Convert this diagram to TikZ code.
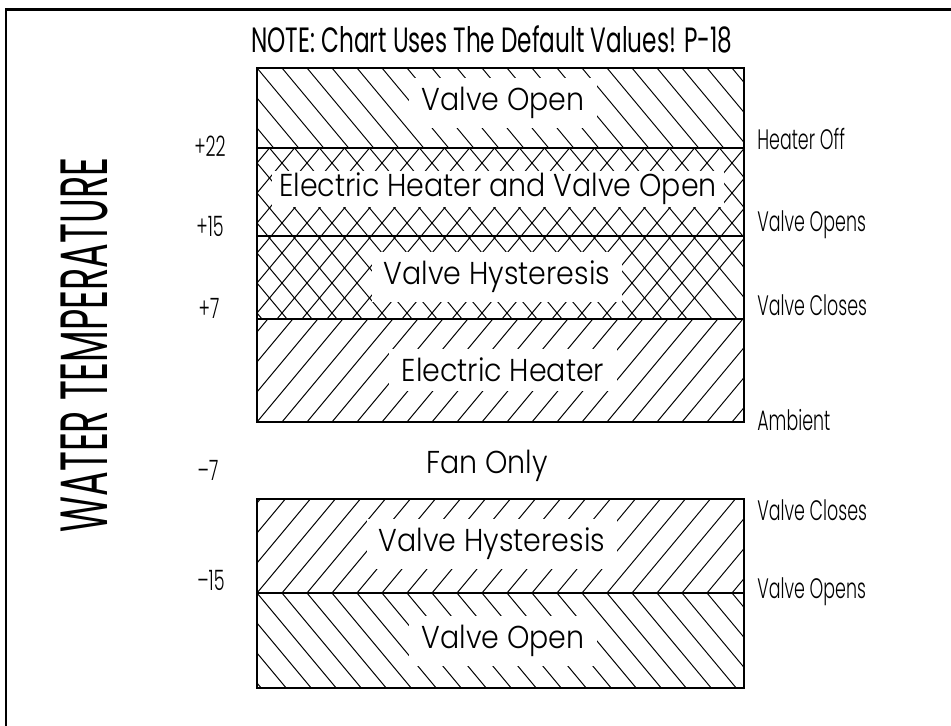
\documentclass[tikz,border=0pt]{standalone}
\usepackage{fontspec}
\IfFontExistsTF{Poppins Light}
  {\newfontfamily\bandfont[FakeStretch=0.9]{Poppins Light}
   \newfontfamily\tagfont[FakeStretch=0.62]{Poppins Light}}
  {\newfontfamily\bandfont[FakeStretch=0.9]{Poppins}
   \newfontfamily\tagfont[FakeStretch=0.62]{Poppins}}
\newfontfamily\headfont[FakeStretch=0.66]{Poppins}
\newfontfamily\axisfont[FakeStretch=0.55]{Poppins}
\usetikzlibrary{positioning}

\tikzset{
  hatch/.style = {line width=0.55pt},
  edge/.style  = {line width=0.9pt},
  band/.style  = {fill=white, inner xsep=7pt, inner ysep=5pt,
                  font=\bandfont\fontsize{18}{20}\selectfont},
  tag/.style   = {inner sep=0pt, font=\tagfont\fontsize{16}{18}\selectfont},
  rtag/.style  = {tag, anchor=west},
}

\begin{document}
\begin{tikzpicture}[x=0.02cm, y=-0.02cm]
  \useasboundingbox (0,0) rectangle (951,726);
  % frame
  \draw[line width=1.7pt] (6,726) -- (6,9.5) -- (951,9.5);

  % ── upper chart: single hatches ─────────────────────────
  \begin{scope}
    \clip (257,68) rectangle (744,148);
    \foreach \k in {-4,...,20}
      \draw[hatch] ({257+25*\k},68) -- ++({80/1.2},80);
  \end{scope}
  \begin{scope}
    \clip (257,319) rectangle (744,422);
    \foreach \k in {-5,...,20}
      \draw[hatch] ({257+25*\k},422) -- ++({103/1.2},-103);
  \end{scope}

  % ── upper chart: cross hatches ──────────────────────────
  \begin{scope}
    \clip (257,148) rectangle (744,319);
    \foreach \k in {-8,...,22} {
      \draw[hatch] ({269.5+25*\k},148) -- ++({171/1.2},171);
      \draw[hatch] ({269.5+25*\k},148) -- ++({-171/1.2},171);
    }
  \end{scope}

  % ── lower chart ─────────────────────────────────────────
  \begin{scope}
    \clip (257,499) rectangle (744,593);
    \foreach \k in {-5,...,20}
      \draw[hatch] ({257+25*\k},593) -- ++({94/1.2},-94);
  \end{scope}
  \begin{scope}
    \clip (257,593) rectangle (744,688);
    \foreach \k in {-4,...,20}
      \draw[hatch] ({257+25*\k},593) -- ++({95/1.2},95);
  \end{scope}

  % band labels
  \node[band] (vopen) at (503,103) {Valve Open};
  \node[band, inner xsep=4pt, inner ysep=1pt] (ehvo) at (498,189) {Electric Heater and Valve Open};
  \node[band] (vhyst) at (497,277) {Valve Hysteresis};
  \node[band] (eheat) at (503,370) {Electric Heater};
  \node[band, fill=none] (fan) at (487,466) {Fan Only};
  \node[band] (lhyst) at (492,544) {Valve Hysteresis};
  \node[band] (lopen) at (503,641) {Valve Open};

  % band outlines
  \draw[edge] (257,68) rectangle (744,422);
  \draw[edge] (257,148) -- (744,148);
  \draw[edge] (257,236) -- (744,236);
  \draw[edge] (257,319) -- (744,319);
  \draw[edge] (257,499) rectangle (744,688);
  \draw[edge] (257,593) -- (744,593);

  % heading and axis title
  \node[inner sep=0pt, font=\headfont\fontsize{20}{22}\selectfont] (head)
    at (492,39) {NOTE: Chart Uses The Default Values! P-18};
  \node[inner sep=0pt, rotate=90, font=\axisfont\fontsize{38}{42}\selectfont] (axis)
    at (84,345) {WATER TEMPERATURE};

  % temperature marks
  \node[tag] (t22)  at (210,146) {+22};
  \node[tag] (t15)  at (210,226) {+15};
  \node[tag] (t7)   at (209,308) {+7};
  \node[tag] (tm7)  at (208,470) {–7};
  \node[tag] (tm15) at (211,580) {–15};

  % switching points
  \node[rtag] (hoff)    at (757,139) {Heater Off};
  \node[rtag] (vopens)  at (757,225) {Valve Opens};
  \node[rtag] (vcloses) at (757,305) {Valve Closes};
  \node[rtag] (amb)     at (757,420) {Ambient};
  \node[rtag] (lcloses) at (757,510) {Valve Closes};
  \node[rtag] (lopens)  at (757,592) {Valve Opens};
\end{tikzpicture}
\end{document}
